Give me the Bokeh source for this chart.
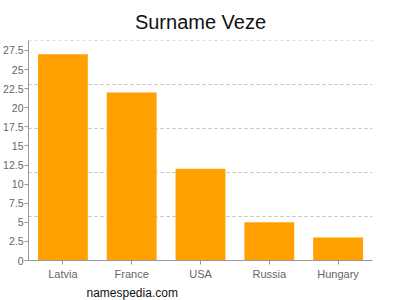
from bokeh.plotting import figure
from bokeh.models import Range1d, FixedTicker, Title, ColumnDataSource
from bokeh.embed import file_html
from bokeh.resources import INLINE

countries = ["Latvia", "France", "USA", "Russia", "Hungary"]
counts = [27, 22, 12, 5, 3]
y_ticks = [0, 2.5, 5, 7.5, 10, 12.5, 15, 17.5, 20, 22.5, 25, 27.5]
y_max = 28.75
title_text = "Surname Veze"
footer_text = "namespedia.com"

FONT = "Liberation Sans"

p = figure(width=400, height=300, x_range=countries, y_range=Range1d(0, y_max + 0.05),
           output_backend="svg", toolbar_location=None,
           min_border_left=0, min_border_right=28, min_border_top=40, min_border_bottom=0)
p.outline_line_color = None
p.background_fill_color = "white"
p.border_fill_color = "white"

p.title.text = title_text
p.title.align = "center"
p.title.text_font = FONT
p.title.text_font_size = "20px"
p.title.text_font_style = "normal"
p.title.text_color = "#111111"
p.title.standoff = 15

src = ColumnDataSource(dict(x=countries, top=counts))
p.vbar(x="x", top="top", width=0.725, source=src, fill_color="#ffa000", line_color=None)

p.xgrid.grid_line_color = None
p.ygrid.ticker = FixedTicker(ticks=[y_max * i / 5 for i in range(1, 6)])
p.ygrid.grid_line_color = "#bbbbbb"
p.ygrid.grid_line_dash = "3 3"
p.ygrid.grid_line_width = 1

p.yaxis.ticker = FixedTicker(ticks=y_ticks)
for ax in (p.xaxis[0], p.yaxis[0]):
    ax.axis_line_color = "#999999"
    ax.major_tick_line_color = "#999999"
    ax.minor_tick_line_color = None
    ax.major_tick_in = 0
    ax.major_tick_out = 4
    ax.major_label_text_font = FONT
    ax.major_label_text_font_size = "11px"
    ax.major_label_text_color = "#666666"
p.yaxis.major_label_text_font_size = "10.5px"
p.xaxis.major_label_standoff = 3
p.yaxis.major_label_standoff = 1

footer = Title(text=footer_text, align="left", offset=58, text_font=FONT,
               text_font_size="12px", text_font_style="normal", text_color="#111111",
               standoff=2)
p.add_layout(footer, "below")

open("out.html", "w").write(file_html(p, INLINE))
